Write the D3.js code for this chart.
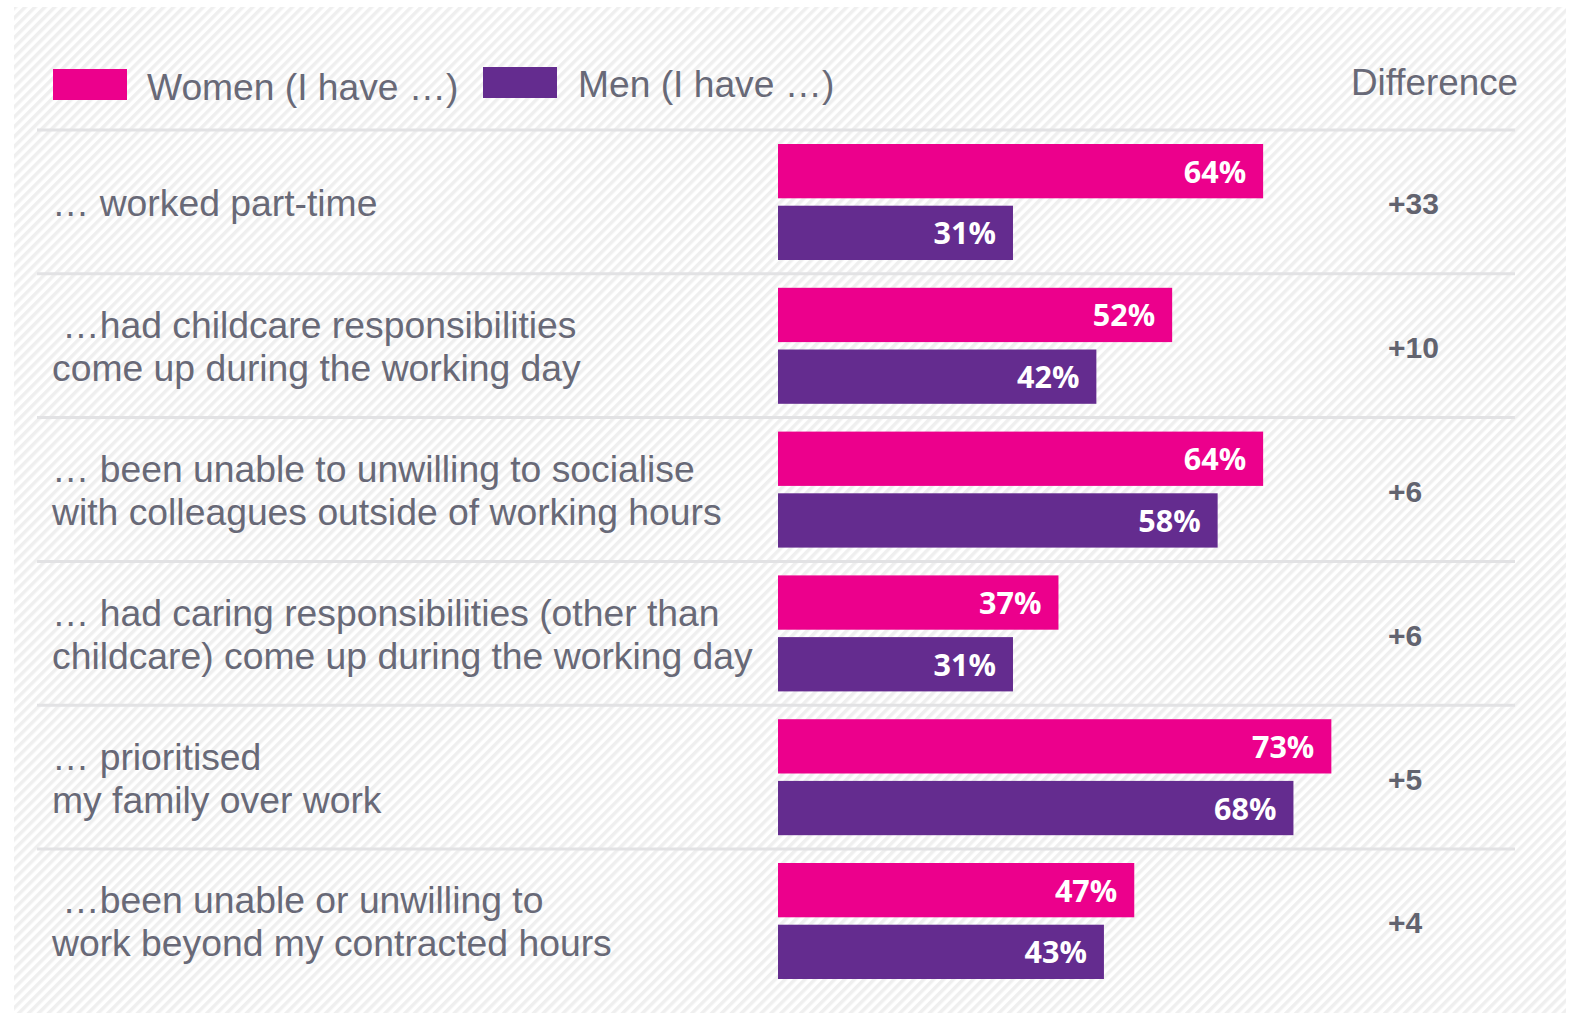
<!DOCTYPE html>
<html>
<head>
<meta charset="utf-8">
<script src="https://cdn.jsdelivr.net/npm/d3@7"></script>
<style>
  html, body { margin: 0; padding: 0; background: #ffffff; }
  svg { display: block; }
</style>
</head>
<body>
<svg id="chart" width="1578" height="1017"></svg>
<script>
// Statements, each drawn on one or two lines
const categories = [
  ["\u2026 worked part-time"],
  ["\u00A0\u2026had childcare responsibilities", "come up during the working day"],
  ["\u2026 been unable to unwilling to socialise", "with colleagues outside of working hours"],
  ["\u2026 had caring responsibilities (other than", "childcare) come up during the working day"],
  ["\u2026 prioritised", "my family over work"],
  ["\u00A0\u2026been unable or unwilling to", "work beyond my contracted hours"]
];
const women = [64, 52, 64, 37, 73, 47];
const men   = [31, 42, 58, 31, 68, 43];
const seriesNames = ["Women (I have \u2026)", "Men (I have \u2026)"];
const differenceTitle = "Difference";

const colors = { Women: "#ec008c", Men: "#642c8f" };
const textGray = "#686977";

const svg = d3.select("#chart");
const defs = svg.append("defs");

// Light diagonal hatching behind the whole panel
const pat = defs.append("pattern")
  .attr("id", "hatch")
  .attr("patternUnits", "userSpaceOnUse")
  .attr("width", 7).attr("height", 7)
  .attr("patternTransform", "rotate(45)");
pat.append("rect").attr("width", 7).attr("height", 7).attr("fill", "#ffffff");
pat.append("rect").attr("width", 3.5).attr("height", 7).attr("fill", "#efefef");

svg.append("rect")
  .attr("x", 14).attr("y", 7)
  .attr("width", 1552).attr("height", 1006)
  .attr("fill", "url(#hatch)");

// Scales
const rowIdx = d3.range(categories.length);
const y = d3.scaleBand().domain(rowIdx).range([130, 130 + 6 * 143.8]).paddingInner(0);
const inner = d3.scaleBand().domain(["Women", "Men"]).range([14, 130]).paddingInner(0.12);
const x = d3.scaleLinear().domain([0, 100]).range([778, 1536]);

const rows = rowIdx.map(i => ({
  i, lines: categories[i], Women: women[i], Men: men[i], diff: women[i] - men[i]
}));

// Legend
const legend = svg.append("g").attr("font-family", "'Liberation Sans', Arial, sans-serif");
legend.append("rect").attr("x", 53).attr("y", 69).attr("width", 74).attr("height", 31).attr("fill", colors.Women);
legend.append("text").attr("x", 147).attr("y", 100).attr("font-size", 37.2).attr("fill", textGray).text(seriesNames[0]);
legend.append("rect").attr("x", 483).attr("y", 67).attr("width", 74).attr("height", 31).attr("fill", colors.Men);
legend.append("text").attr("x", 578).attr("y", 97).attr("font-size", 37.2).attr("fill", textGray).text(seriesNames[1]);
legend.append("text").attr("x", 1518).attr("y", 95).attr("font-size", 36.8).attr("text-anchor", "end")
  .attr("fill", textGray).text(differenceTitle);

// Rows
const g = svg.selectAll("g.row").data(rows).join("g")
  .attr("class", "row")
  .attr("transform", d => `translate(0,${y(d.i)})`);

// Separator line above each row
g.append("line")
  .attr("x1", 37).attr("x2", 1515)
  .attr("y1", 0).attr("y2", 0)
  .attr("stroke", "#e2e2e4").attr("stroke-width", 3);

const rowMid = y.bandwidth() / 2;

// Statement text
g.append("text")
  .attr("font-family", "'Liberation Sans', Arial, sans-serif")
  .attr("font-size", 37.3)
  .attr("fill", textGray)
  .each(function (d) {
    const t = d3.select(this);
    const lh = 43;
    const first = rowMid + 14 - (d.lines.length - 1) * lh / 2;
    d.lines.forEach((ln, k) => {
      t.append("tspan").attr("x", 52).attr("y", first + k * lh).text(ln);
    });
  });

// Bars
["Women", "Men"].forEach(s => {
  g.append("rect")
    .attr("x", x(0))
    .attr("y", inner(s))
    .attr("width", d => x(d[s]) - x(0))
    .attr("height", inner.bandwidth())
    .attr("fill", colors[s]);

  g.append("text")
    .attr("x", d => x(d[s]) - 17)
    .attr("y", inner(s) + inner.bandwidth() / 2 + 11.5)
    .attr("text-anchor", "end")
    .attr("font-family", "'Open Sans', sans-serif")
    .attr("font-weight", 700)
    .attr("font-size", 30.5)
    .attr("fill", "#ffffff")
    .text(d => d[s] + "%");
});

// Difference column
g.append("text")
  .attr("x", 1388)
  .attr("y", rowMid + 12.5)
  .attr("font-family", "'Liberation Sans', Arial, sans-serif")
  .attr("font-weight", 700)
  .attr("font-size", 30)
  .attr("fill", "#62636f")
  .text(d => "+" + d.diff);
</script>
</body>
</html>
